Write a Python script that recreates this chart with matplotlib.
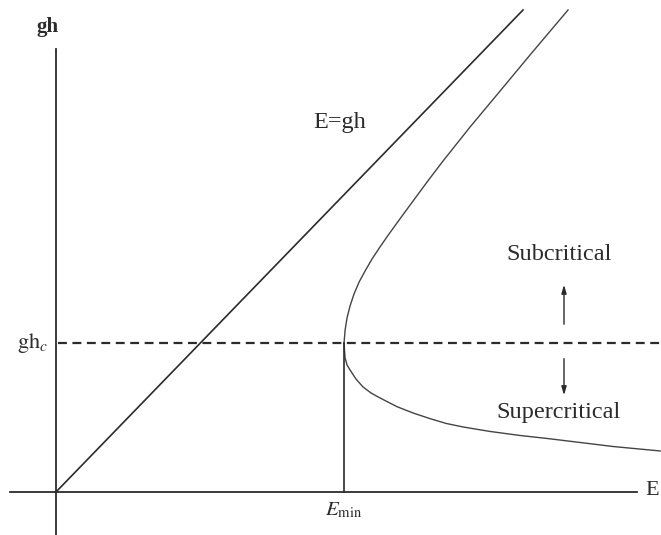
import numpy as np
import matplotlib.pyplot as plt

plt.rcParams['font.family'] = ['Liberation Serif', 'DejaVu Serif']
plt.rcParams['mathtext.fontset'] = 'stix'

# critical depth level and minimum specific energy (gh_c = 1)
gh_c = 1.0
E_min = 1.933

# E = gh reference line
line_E = [0.0, 3.134]
line_gh = [0.0, 3.235]

# specific energy curve, subcritical branch (above gh_c)
upper_E = [1.933, 1.940, 1.953, 1.973, 2.000, 2.034, 2.074, 2.121, 2.174, 2.235,
           2.322, 2.416, 2.510, 2.597, 2.779, 2.980, 3.181, 3.436]
upper_gh = [1.000, 1.087, 1.168, 1.248, 1.329, 1.409, 1.483, 1.564, 1.644, 1.732,
            1.852, 1.980, 2.107, 2.221, 2.450, 2.691, 2.933, 3.235]

# supercritical branch (below gh_c)
lower_E = [1.933, 1.936, 1.940, 1.953, 1.973, 2.013, 2.060, 2.114, 2.174, 2.289,
           2.396, 2.510, 2.617, 2.732, 2.913, 3.114, 3.295, 3.517, 3.738, 4.054]
lower_gh = [1.000, 0.950, 0.899, 0.852, 0.819, 0.758, 0.705, 0.664, 0.631, 0.572,
            0.530, 0.492, 0.460, 0.436, 0.406, 0.379, 0.359, 0.332, 0.305, 0.275]

ink = '#2b2b2b'

fig = plt.figure(figsize=(6.61, 5.35), dpi=100)
ax = fig.add_axes([0, 0, 1, 1])
ax.set_xlim(-0.376, 4.060)
ax.set_ylim(-0.289, 3.302)
ax.axis('off')

# axes drawn by hand
ax.plot([-0.309, 3.90], [0, 0], color=ink, lw=1.3)
ax.plot([0, 0], [-0.289, 2.973], color=ink, lw=1.3)

ax.plot(line_E, line_gh, color=ink, lw=1.2)
ax.plot(upper_E, upper_gh, color='#444444', lw=1.0)
ax.plot(lower_E, lower_gh, color='#444444', lw=1.0)

ax.plot([0.01, 4.06], [gh_c, gh_c], color=ink, lw=1.6, dashes=(4, 2.5))
ax.plot([E_min, E_min], [0, gh_c], color=ink, lw=1.2)

ax.annotate('', xy=(3.409, 1.409), xytext=(3.409, 1.107),
            arrowprops=dict(arrowstyle='-|>,head_length=0.5,head_width=0.15',
                            color=ink, lw=1.0))
ax.annotate('', xy=(3.409, 0.631), xytext=(3.409, 0.913),
            arrowprops=dict(arrowstyle='-|>,head_length=0.5,head_width=0.15',
                            color=ink, lw=1.0))

ax.text(-0.054, 3.121, 'gh', fontsize=15, fontweight='bold', ha='center', va='center', color=ink)
ax.text(-0.054, gh_c, r'$\mathrm{gh}_c$', fontsize=16, ha='right', va='center', color=ink)
ax.text(E_min, -0.121, r'$E_{\mathrm{min}}$', fontsize=15, ha='center', va='center', color=ink)
ax.text(3.953, 0.013, 'E', fontsize=16, ha='left', va='center', color=ink)
ax.text(1.725, 2.483, 'E=gh', fontsize=17.5, ha='left', va='center', color=ink)
ax.text(3.376, 1.591, 'Subcritical', fontsize=17.5, ha='center', va='center', color=ink)
ax.text(3.369, 0.530, 'Supercritical', fontsize=17.5, ha='center', va='center', color=ink)

fig.savefig('out.png', dpi=100)
